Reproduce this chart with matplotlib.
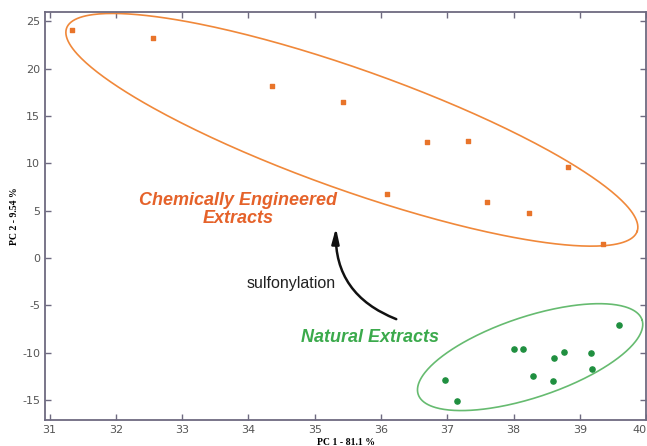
import numpy as np
import matplotlib.pyplot as plt

plt.rcParams['axes.unicode_minus'] = False

# PCA scores
chem_pc1 = [31.33, 32.56, 34.35, 35.43, 36.69, 37.32, 38.82, 36.09, 37.60, 38.24, 39.35]
chem_pc2 = [24.1, 23.2, 18.2, 16.46, 12.3, 12.4, 9.6, 6.75, 5.9, 4.75, 1.47]
nat_pc1 = [39.59, 38.01, 38.15, 38.76, 38.61, 39.17, 39.18, 38.29, 38.60, 36.96, 37.14]
nat_pc2 = [-7.07, -9.6, -9.6, -9.9, -10.55, -10.0, -11.7, -12.45, -12.95, -12.9, -15.1]

# ellipses: centre and two conjugate semi-axis vectors (data units)
chem_ell = dict(c=(35.56, 13.55), u=(4.305, -10.73), v=(-0.303, -5.99))
nat_ell = dict(c=(38.25, -10.46), u=(1.689, 3.936), v=(0.191, -4.046))

xticks = [31, 32, 33, 34, 35, 36, 37, 38, 39, 40]
yticks = [-15, -10, -5, 0, 5, 10, 15, 20, 25]

orange = '#E8742A'
green = '#1F8F3F'

fig = plt.figure(figsize=(6.47, 4.46), dpi=100)
ax = fig.add_axes([0.0696, 0.0583, 0.929, 0.915])

t = np.linspace(0, 2 * np.pi, 400)
for e, col in [(chem_ell, '#F0883A'), (nat_ell, '#66BB70')]:
    ex = e['c'][0] + e['u'][0] * np.cos(t) + e['v'][0] * np.sin(t)
    ey = e['c'][1] + e['u'][1] * np.cos(t) + e['v'][1] * np.sin(t)
    ax.plot(ex, ey, color=col, lw=1.2, clip_on=False)

ax.scatter(chem_pc1, chem_pc2, marker='s', s=12, color=orange, zorder=3)
ax.scatter(nat_pc1, nat_pc2, marker='o', s=14, color=green, zorder=3)

ax.text(33.84, 5.1, 'Chemically Engineered\nExtracts', color='#E5622A',
        fontsize=13, fontweight='bold', style='italic', family='Liberation Sans',
        ha='center', va='center', linespacing=1.1)
ax.text(35.84, -8.35, 'Natural Extracts', color='#3BAA4C',
        fontsize=13, fontweight='bold', style='italic', family='Liberation Sans',
        ha='center', va='center')
ax.text(34.65, -2.65, 'sulfonylation', color='#222222', fontsize=11.5,
        family='Liberation Sans', ha='center', va='center')

ax.annotate('', xy=(35.32, 3.2), xytext=(36.23, -6.45),
            arrowprops=dict(arrowstyle='-|>,head_length=0.9,head_width=0.22',
                            connectionstyle='arc3,rad=-0.35',
                            color='#111111', lw=1.8, shrinkA=0, shrinkB=0))

ax.set_xlim(30.93, 40.0)
ax.set_ylim(-17.1, 26.0)
ax.set_xticks(xticks)
ax.set_yticks(yticks)
ax.tick_params(direction='in', length=4, width=1, colors='#6E6A80',
               labelcolor='#555555', labelsize=8, top=True, right=True)
# last x label sits at the right edge of the figure
ax.get_xticklabels()[-1].set_horizontalalignment('right')
for s in ax.spines.values():
    s.set_color('#6E6A80')
    s.set_linewidth(1.3)

ax.set_xlabel('PC 1 - 81.1 %', fontsize=7, fontweight='bold',
              family='Liberation Serif', labelpad=2)
ax.set_ylabel('PC 2 - 9.54 %', fontsize=7, fontweight='bold',
              family='Liberation Serif')
ax.yaxis.set_label_coords(-0.043, 0.5)

fig.savefig('out.png', dpi=100)
